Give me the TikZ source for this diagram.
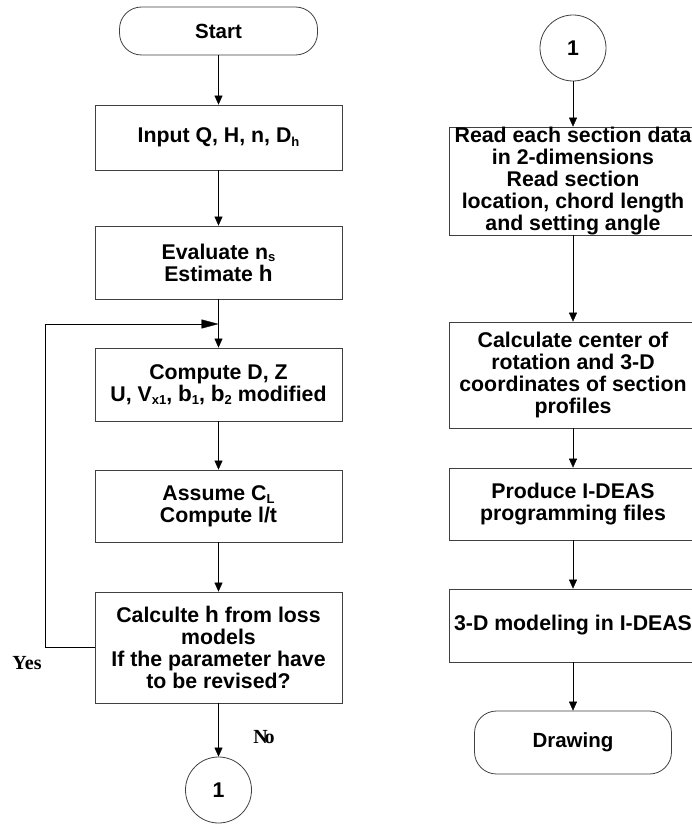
\documentclass[tikz,border=0pt]{standalone}
\usepackage{fontspec}
\setmainfont{Liberation Sans}
\newfontfamily\tagfont{Liberation Serif}
\usetikzlibrary{arrows.meta,positioning}
\newcommand{\lo}[1]{\raisebox{-3.5pt}{\fontsize{13}{13}\selectfont #1}}
\newcommand{\gk}[1]{{\fontsize{22.5}{21.7}\selectfont #1}}

\begin{document}
\begin{tikzpicture}[x=1pt,y=-1pt,>={Triangle[length=9pt,width=8pt]},
  procbox/.style={draw=black!75,line width=0.8pt,minimum width=247pt,inner sep=0pt,
    align=center,font=\bfseries\fontsize{21.3}{21.9}\selectfont},
  termbox/.style={draw=black!75,line width=0.8pt,rounded corners=22pt,inner sep=0pt,
    font=\bfseries\fontsize{20.5}{21.9}\selectfont},
  joint/.style={draw=black!75,line width=0.8pt,circle,minimum size=66pt,inner sep=0pt,
    font=\bfseries\fontsize{21.3}{21.9}\selectfont},
  tag/.style={inner sep=0pt,font=\tagfont\bfseries\fontsize{20}{20}\selectfont}]
  \useasboundingbox (0,0) rectangle (691,829);

  \node[termbox,minimum width=198pt,minimum height=48pt] (start) at (218.5,31) {Start};
  \node[procbox,minimum height=65pt] (input) at (218.5,137.5) {Input Q, H, n, D\lo{h}};
  \node[procbox,minimum height=73pt] (eval) at (218.5,262.5) {Evaluate n\raisebox{-2.5pt}{\fontsize{13}{13}\selectfont s}\\Estimate \gk{h}};
  \node[procbox,minimum height=73pt] (comp) at (218.5,384.5) {Compute D, Z\\U, V\lo{x1}, \gk{b}\lo{1}, \gk{b}\lo{2} modified};
  \node[procbox,minimum height=72pt] (assume) at (218.5,506) {Assume C\lo{L}\\Compute l/t};
  \node[procbox,minimum height=111pt] (calc) at (218.5,647.5) {Calculte \gk{h} from loss\\models\\If the parameter have\\to be revised?};
  \node[joint] (outA) at (218.5,790) {1};

  \node[joint] (inA) at (573,48) {1};
  \node[procbox,minimum height=108pt] (read) at (573,181) {Read each section data\\in 2-dimensions\\Read section\\location, chord length\\and setting angle};
  \node[procbox,minimum height=106pt] (centre) at (573,375) {Calculate center of\\rotation and 3-D\\coordinates of section\\profiles};
  \node[procbox,minimum height=72pt] (produce) at (573,504) {Produce I-DEAS\\programming files};
  \node[procbox,minimum height=73pt] (model) at (573,625.5) {3-D modeling in I-DEAS};
  \node[termbox,minimum width=197pt,minimum height=63pt] (drawing) at (573,742.5) {Drawing};

  \draw[->] (start) -- (input);
  \draw[->] (input) -- (eval);
  \draw[->] (eval) -- (comp);
  \draw[->] (comp) -- (assume);
  \draw[->] (assume) -- (calc);
  \draw[->] (calc) -- (outA);

  \coordinate (merge) at (218.5,324);
  \coordinate (back) at (45,647.5);
  \draw[-{Triangle[length=17pt,width=9pt]}] (calc.west) -- (back) |- (merge);
  \node[tag] (yes) at (27,663) {Y\kern-2pt es};
  \node[tag] (no) at (264,737) {N\kern-3pt o};

  \draw[->] (inA) -- (read);
  \draw[->] (read) -- (centre);
  \draw[->] (centre) -- (produce);
  \draw[->] (produce) -- (model);
  \draw[->] (model) -- (drawing);
\end{tikzpicture}
\end{document}
